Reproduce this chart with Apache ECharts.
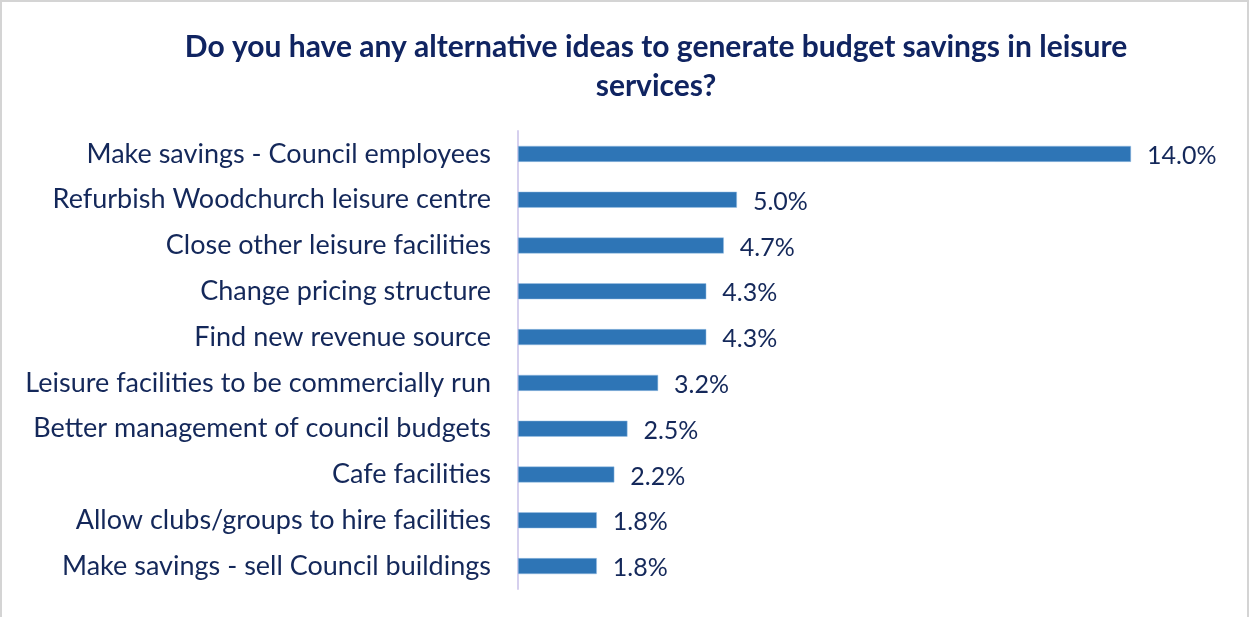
<!DOCTYPE html>
<html>
<head>
<meta charset="utf-8">
<script src="https://cdn.jsdelivr.net/npm/echarts@6/dist/echarts.min.js"></script>
<style>
  html, body { margin: 0; padding: 0; background: #fff; }
  #chart { width: 1249px; height: 617px; box-sizing: border-box; border: 2px solid #d4d4d4; border-bottom: none; }
</style>
</head>
<body>
<div id="chart"></div>
<script>
const titleText = 'Do you have any alternative ideas to generate budget savings in leisure\nservices?';
const categories = [
  'Make savings - Council employees',
  'Refurbish Woodchurch leisure centre',
  'Close other leisure facilities',
  'Change pricing structure',
  'Find new revenue source',
  'Leisure facilities to be commercially run',
  'Better management of council budgets',
  'Cafe facilities',
  'Allow clubs/groups to hire facilities',
  'Make savings - sell Council buildings'
];
const shares = [14.0, 5.0, 4.7, 4.3, 4.3, 3.2, 2.5, 2.2, 1.8, 1.8];

const textColor = '#14285a';
const titleColor = '#102461';
const fontFamily = 'Lato, "Open Sans", sans-serif';

const chart = echarts.init(document.getElementById('chart'), null, { renderer: 'canvas' });
chart.setOption({
  animation: false,
  title: {
    text: titleText,
    top: 21,
    textAlign: 'center',
    left: 649,
    textStyle: {
      fontFamily: fontFamily,
      fontSize: 30,
      fontWeight: 'bold',
      color: titleColor,
      lineHeight: 39,
      align: 'center'
    }
  },
  grid: { left: 516, right: 116, top: 129, bottom: 28, containLabel: false },
  xAxis: {
    type: 'value',
    min: 0,
    max: 14,
    show: false
  },
  yAxis: {
    type: 'category',
    data: categories,
    inverse: true,
    axisLine: { show: true, lineStyle: { color: '#d6d0ee', width: 2 } },
    axisTick: { show: false },
    axisLabel: {
      margin: 27,
      fontFamily: fontFamily,
      fontSize: 27,
      color: textColor
    }
  },
  series: [{
    type: 'bar',
    data: shares,
    barWidth: 16,
    itemStyle: { color: '#2e75b6', borderColor: '#9dc3e6', borderWidth: 0.5 },
    label: {
      show: true,
      position: 'right',
      distance: 16,
      fontFamily: fontFamily,
      fontSize: 25,
      color: textColor,
      offset: [0, 2],
      formatter: p => p.value.toFixed(1) + '%'
    }
  }]
});
</script>
</body>
</html>
